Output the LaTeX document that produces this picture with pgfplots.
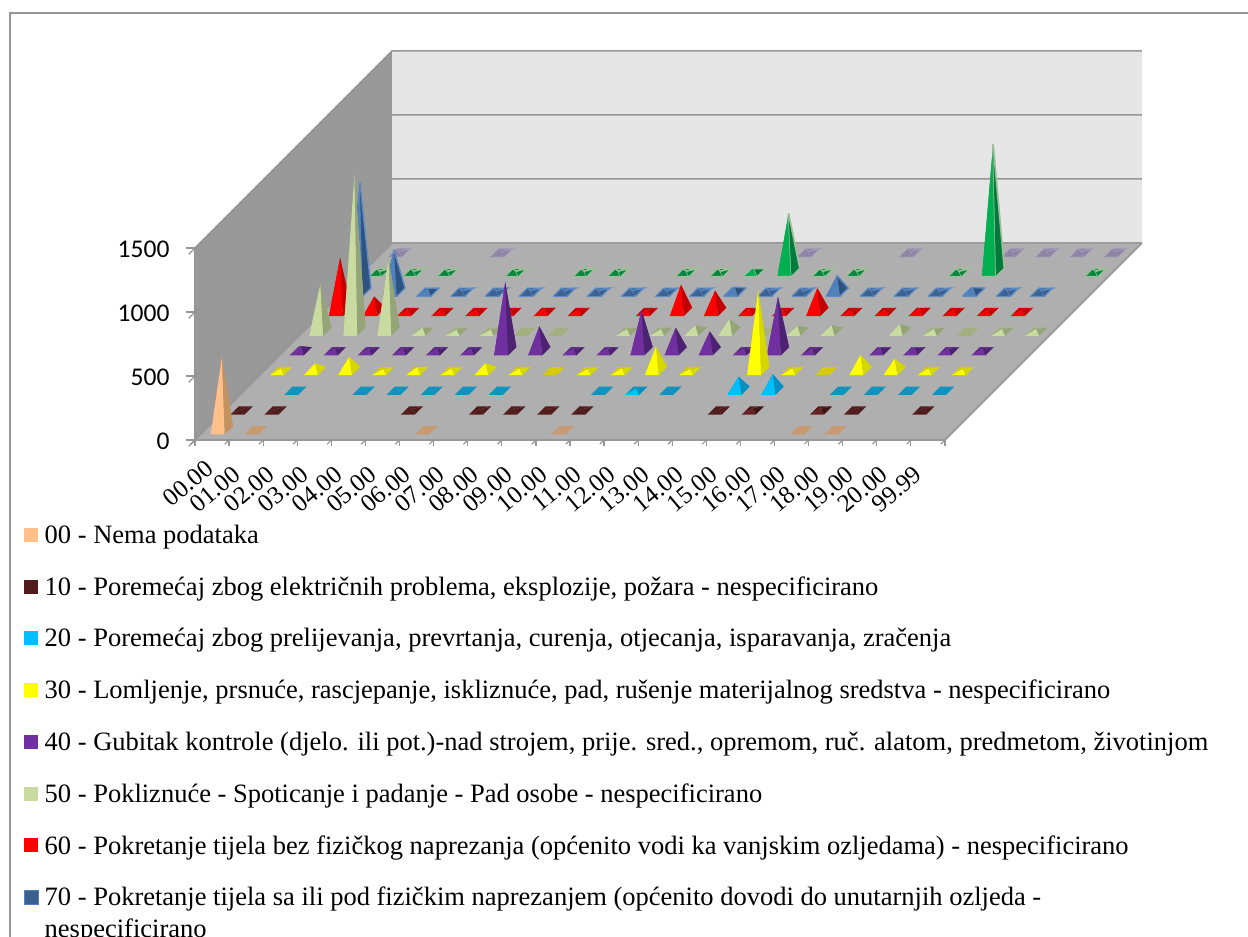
\documentclass[border=0pt]{standalone}
\usepackage{pgfplots}
\pgfplotsset{compat=1.18}
\usepackage{fontspec}
\setmainfont{Liberation Serif}
\newfontfamily\calfont{Carlito}
\definecolor{wallL}{HTML}{999999}
\definecolor{wallB}{HTML}{E6E6E6}
\definecolor{floorc}{HTML}{AFAFAF}
\definecolor{gridc}{HTML}{969696}
% front, right, dull, edge
\definecolor{c0F}{HTML}{FFC08A}\definecolor{c0R}{HTML}{C4925F}\definecolor{c0D}{HTML}{C9996F}
\definecolor{c1F}{HTML}{652323}\definecolor{c1R}{HTML}{3E1414}\definecolor{c1D}{HTML}{4F1B1B}
\definecolor{c2F}{HTML}{00BFFF}\definecolor{c2R}{HTML}{0091C2}\definecolor{c2D}{HTML}{0B93C0}
\definecolor{c3F}{HTML}{FFFF00}\definecolor{c3R}{HTML}{D6D600}\definecolor{c3D}{HTML}{D6CC00}
\definecolor{c4F}{HTML}{7030A0}\definecolor{c4R}{HTML}{4E2272}\definecolor{c4D}{HTML}{5E2A86}
\definecolor{c5F}{HTML}{C9DBA0}\definecolor{c5R}{HTML}{96A578}\definecolor{c5D}{HTML}{A3AF7F}
\definecolor{c6F}{HTML}{FF0000}\definecolor{c6R}{HTML}{C40000}\definecolor{c6D}{HTML}{C80000}
\definecolor{c7F}{HTML}{4F81BD}\definecolor{c7R}{HTML}{2F5380}\definecolor{c7D}{HTML}{3A6090}\definecolor{c7E}{HTML}{5B8AC4}
\definecolor{c8F}{HTML}{00B050}\definecolor{c8R}{HTML}{007A3D}\definecolor{c8D}{HTML}{00863D}\definecolor{c8E}{HTML}{A0BE9A}
\definecolor{c9F}{HTML}{8E83A4}\definecolor{c9R}{HTML}{7A7090}\definecolor{c9D}{HTML}{8E83A4}\definecolor{c9E}{HTML}{A59BBA}
\def\hw{0.205}\def\hd{0.21}
\newcommand\pyr[3]{%
 \pgfmathsetmacro\xa{#2+0.5-\hw}\pgfmathsetmacro\xb{#2+0.5+\hw}\pgfmathsetmacro\xc{#2+0.5}%
 \pgfmathsetmacro\ya{#1+0.5-\hd}\pgfmathsetmacro\yb{#1+0.5+\hd}\pgfmathsetmacro\yc{#1+0.5}%
 \ifdim #3pt<13pt\relax \edef\cfr{\cD}\edef\crt{\cD}\else \edef\cfr{\cF}\edef\crt{\cR}\fi
 \edef\tmp{%
  \noexpand\addplot3[forget plot,fill=\cD,\st] coordinates {(\xa,\yb,0)(\xb,\yb,0)(\xc,\yc,#3)};
  \noexpand\addplot3[forget plot,fill=\cD,\st] coordinates {(\xa,\ya,0)(\xa,\yb,0)(\xc,\yc,#3)};
  \noexpand\addplot3[forget plot,fill=\cfr,\st] coordinates {(\xa,\ya,0)(\xb,\ya,0)(\xc,\yc,#3)};
  \noexpand\addplot3[forget plot,fill=\crt,\st] coordinates {(\xb,\ya,0)(\xb,\yb,0)(\xc,\yc,#3)};
 }\tmp
}
\newcommand\pyrs[5]{% row, front, right, dull, style ; list follows
 \def\cF{#2}\def\cR{#3}\def\cD{#4}\def\st{#5}\pyrlist{#1}}
\newcommand\pyrlist[2]{\foreach \ii/\vv in {#2}{\pyr{#1}{\ii}{\vv}}}
\begin{document}
\begin{tikzpicture}[x=1pt,y=1pt]
\useasboundingbox (0,0) rectangle (1248,937);
\draw[color=gridc,line width=2pt] (10,0) -- (10,924) -- (1248,924);
\begin{axis}[
 at={(195pt,497pt)},anchor=origin,
 x={(34.09pt,0pt)},y={(19.7pt,19.7pt)},z={(0pt,0.128pt)},
 xmin=0,xmax=22,ymin=0,ymax=10,zmin=0,zmax=1500,
 clip=false,
 axis x line*=bottom,axis z line*=left,axis y line*=left,
 y axis line style={draw=none},ytick=\empty,
 axis line style={color=gridc,line width=1.5pt},
 xtick={0.5,1.5,2.5,3.5,4.5,5.5,6.5,7.5,8.5,9.5,10.5,11.5,12.5,13.5,14.5,15.5,16.5,17.5,18.5,19.5,20.5,21.5},
 xticklabels={00.00\kern-9pt,01.00,02.00,03.00,04.00,05.00,06.00,07.00,08.00,09.00,10.00,11.00,12.00,13.00,14.00,15.00,16.00,17.00,18.00,19.00,20.00,99.99},
 minor xtick={0,1,...,22},
 ztick={0,500,1000,1500},zticklabels={0,500,1000,1500},
 xtick align=outside,ztick align=outside,
 tick style={color=gridc,line width=1.2pt},
 major tick length=9pt,minor tick length=6pt,
 major x tick style={draw=none},
 xticklabel style={font=\fontsize{25}{26}\selectfont,rotate=40,anchor=north east,inner sep=0pt,yshift=-8pt,xshift=-18pt},
 zticklabel style={font=\fontsize{25.5}{26}\selectfont\calfont,anchor=east,inner sep=0pt,xshift=-19pt,yshift=5.5pt},
 legend cell align=left,
 legend image code/.code={\path[#1] (0pt,-7pt) rectangle (14pt,7pt);\path (20pt,0pt);},
 legend style={at={(axis cs:-5.03,0,-662)},anchor=north west,draw=none,fill=none,inner sep=0pt,row sep=31.7pt,
   font=\fontsize{26.5}{32}\selectfont,nodes={inner sep=0pt}},
]
\addlegendimage{fill=c0F,draw=none}\addlegendentry{00 - Nema podataka}
\addlegendimage{fill=c1D,draw=none}\addlegendentry{10 - Poremećaj zbog električnih problema, eksplozije, požara - nespecificirano}
\addlegendimage{fill=c2F,draw=none}\addlegendentry{20 - Poremećaj zbog prelijevanja, prevrtanja, curenja, otjecanja, isparavanja, zračenja}
\addlegendimage{fill=c3F,draw=none}\addlegendentry{30 - Lomljenje, prsnuće, rascjepanje, iskliznuće, pad, rušenje materijalnog sredstva - nespecificirano}
\addlegendimage{fill=c4F,draw=none}\addlegendentry{40 - Gubitak kontrole (djelo. ili pot.)-nad strojem, prije. sred., opremom, ruč. alatom, predmetom, životinjom}
\addlegendimage{fill=c5F,draw=none}\addlegendentry{50 - Pokliznuće - Spoticanje i padanje - Pad osobe - nespecificirano}
\addlegendimage{fill=c6F,draw=none}\addlegendentry{60 - Pokretanje tijela bez fizičkog naprezanja (općenito vodi ka vanjskim ozljedama) - nespecificirano}
\addlegendimage{fill=c7D,draw=c7F,line width=1pt}\addlegendentry{\parbox[t]{1195pt}{70 - Pokretanje tijela sa ili pod fizičkim naprezanjem (općenito dovodi do unutarnjih ozljeda -\\ nespecificirano}}
% walls and floor
\addplot3[forget plot,fill=wallL,draw=none] coordinates {(0,0,0)(0,10,0)(0,10,1500)(0,0,1500)};
\addplot3[forget plot,fill=wallB,draw=none] coordinates {(0,10,0)(22,10,0)(22,10,1500)(0,10,1500)};
\addplot3[forget plot,fill=floorc,draw=none] coordinates {(0,0,0)(22,0,0)(22,10,0)(0,10,0)};
% grid
\addplot3[forget plot,color=gridc,line width=1.5pt] coordinates {(0,0,0)(0,10,0)(22,10,0)};
\addplot3[forget plot,color=gridc,line width=1.5pt] coordinates {(0,0,500)(0,10,500)(22,10,500)};
\addplot3[forget plot,color=gridc,line width=1.5pt] coordinates {(0,0,1000)(0,10,1000)(22,10,1000)};
\addplot3[forget plot,color=gridc,line width=1.5pt] coordinates {(0,0,1500)(0,10,1500)(22,10,1500)};
\addplot3[forget plot,color=gridc,line width=1.5pt] coordinates {(0,0,1500)(0,0,0)(22,0,0)(22,10,0)};
% series, back to front
\pyrs{9}{c9F}{c9R}{c9D}{draw=c9E,line width=0.8pt}{0/10,3/10,12/10,15/10,18/10,19/10,20/10,21/10}
\pyrs{8}{c8F}{c8R}{c8D}{draw=c8E,line width=1.5pt}{0/10,1/10,2/10,4/10,6/10,7/10,9/10,10/10,11/30,12/460,13/10,14/10,17/10,18/1000,21/10}
\pyrs{7}{c7F}{c7R}{c7D}{draw=c7E,line width=1.2pt}{0/860,1/330,2/30,3/12,4/12,5/12,6/12,7/12,8/12,9/12,10/12,11/40,12/12,13/12,14/130,15/12,16/12,17/12,18/35,19/12,20/12}
\pyrs{6}{c6F}{c6R}{c6D}{draw=none}{0/420,1/120,2/15,3/15,4/15,5/15,6/30,7/15,9/15,10/210,11/165,12/20,13/15,14/185,15/15,16/15,17/30,18/15,19/15,20/15}
\pyrs{5}{c5F}{c5R}{c5D}{draw=none}{0/370,1/1230,2/570,3/30,4/15,5/15,6/10,7/10,9/20,10/20,11/50,12/100,13/10,14/45,15/50,17/60,18/20,19/10,20/20,21/20}
\pyrs{4}{c4F}{c4R}{c4D}{draw=none}{0/40,1/15,2/15,3/15,4/15,5/15,6/540,7/195,8/15,9/20,10/320,11/185,12/155,13/15,14/425,15/15,17/30,18/30,19/20,20/15}
\pyrs{3}{c3F}{c3R}{c3D}{draw=none}{0/20,1/60,2/110,3/15,4/30,5/20,6/60,7/20,8/10,9/15,10/20,11/190,12/15,14/630,15/20,16/10,17/125,18/95,19/20,20/15}
\pyrs{2}{c2F}{c2R}{c2D}{draw=none}{1/10,3/10,4/10,5/10,6/10,7/10,10/10,11/15,12/10,14/110,15/130,17/10,18/10,19/10,20/10}
\pyrs{1}{c1F}{c1R}{c1D}{draw=none}{0/10,1/10,5/10,7/10,8/10,9/10,10/10,14/10,15/20,17/15,18/10,20/10}
\pyrs{0}{c0F}{c0R}{c0D}{draw=none}{0/570,1/10,6/10,10/10,17/10,18/10}
\end{axis}
\end{tikzpicture}
\end{document}
